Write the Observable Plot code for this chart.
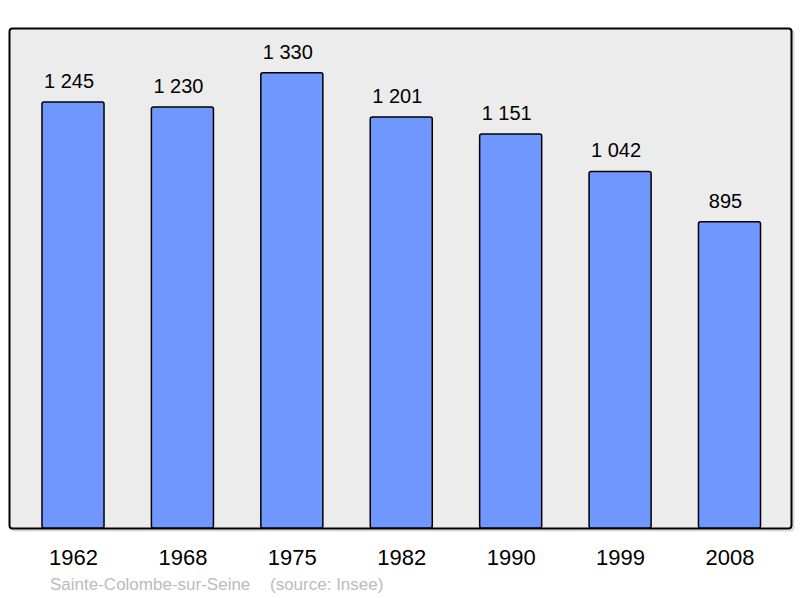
<!DOCTYPE html>
<html>
<head>
<meta charset="utf-8">
<script src="https://cdn.jsdelivr.net/npm/d3@7"></script>
<script src="https://cdn.jsdelivr.net/npm/@observablehq/plot@0.6"></script>
<style>
  html, body { margin: 0; padding: 0; background: #ffffff; }
  svg { display: block; }
</style>
</head>
<body>
<div id="chart"></div>
<script>
const years = ["1962", "1968", "1975", "1982", "1990", "1999", "2008"];
const population = [1245, 1230, 1330, 1201, 1151, 1042, 895];
const valueLabels = ["1 245", "1 230", "1 330", "1 201", "1 151", "1 042", "895"];
const captionPlace = "Sainte-Colombe-sur-Seine";
const captionSource = "(source: Insee)";

const data = years.map((year, i) => ({year, value: population[i], label: valueLabels[i]}));

const font = "'Liberation Sans', Arial, Helvetica, sans-serif";

const chart = Plot.plot({
  width: 800,
  height: 598,
  marginTop: 28,
  marginBottom: 70,
  marginLeft: 9,
  marginRight: 9,
  style: {fontFamily: font, background: "#ffffff", color: "#000000"},
  x: {type: "band", domain: years, range: [20.1, 782.4], paddingInner: 0.433, paddingOuter: 0.2, round: false, label: null},
  y: {domain: [0, 1461], axis: null},
  marks: [
    Plot.frame({stroke: "#999999", strokeOpacity: 0.35, strokeWidth: 2, rx: 3, dx: 2, dy: 2}),
    Plot.frame({fill: "#ececec", stroke: "#000000", strokeWidth: 2, rx: 3}),
    Plot.barY(data, {x: "year", y: "value", fill: "#7096ff", stroke: "#000000", strokeWidth: 1.5, rx: 2}),
    Plot.text(data, {x: "year", y: "value", text: "label", lineAnchor: "bottom", dx: -4.5, dy: -14.5, fontSize: 20, fill: "#000000"}),
    Plot.axisX({tickSize: 0, tickPadding: 21, fontSize: 22, label: null, fill: "#000000"})
  ]
});

const svg = d3.select(chart);
const capG = svg.append("g")
  .attr("font-family", font)
  .attr("font-size", 17)
  .attr("text-anchor", "start")
  .attr("fill", "#bbbbbb");
capG.append("text").attr("x", 50).attr("y", 590).text(captionPlace);
capG.append("text").attr("x", 270).attr("y", 590).text(captionSource);

document.getElementById("chart").appendChild(chart);
</script>
</body>
</html>
